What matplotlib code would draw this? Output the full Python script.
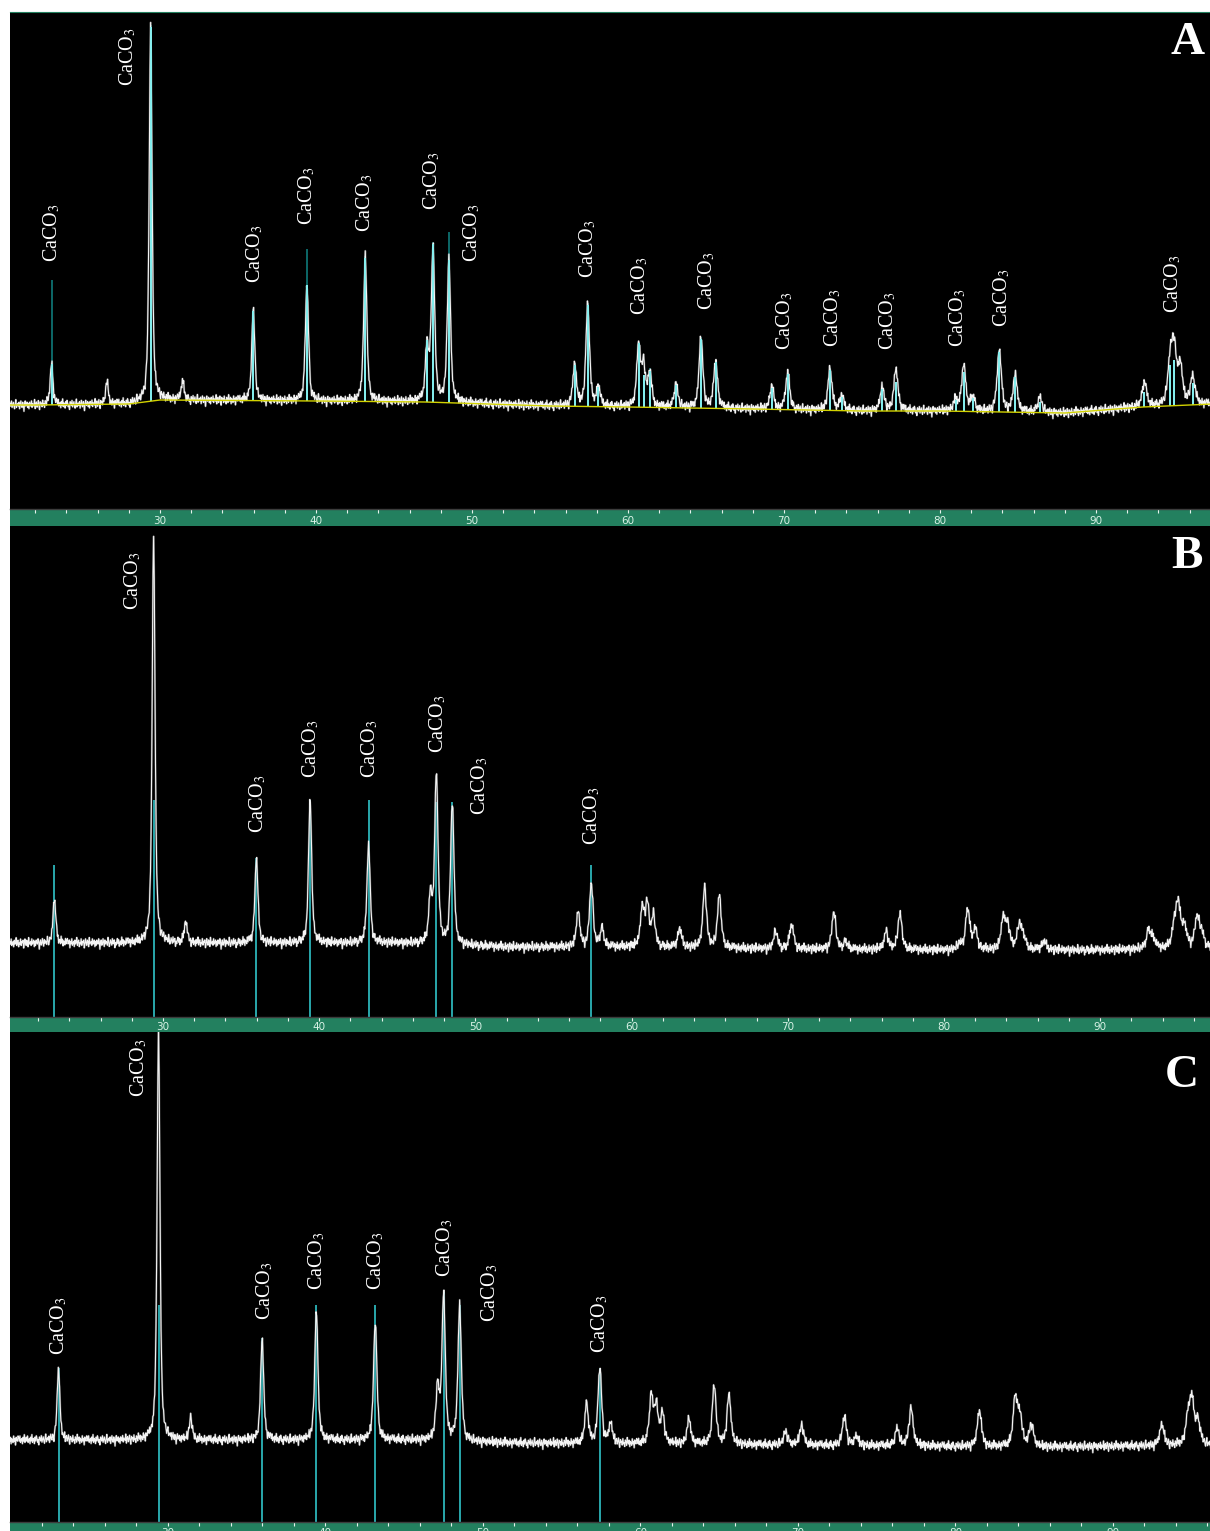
import numpy as np
import matplotlib
matplotlib.use("Agg")
from matplotlib import pyplot as plt

plt.rcParams['mathtext.fontset'] = 'stix'

W, H = 1210, 1531

# ---------------- data (2theta in degrees, intensity in counts) ----------------

# background knots
a_bg_x = [19.5, 22, 28, 30, 40, 47, 55, 60, 68, 75, 80, 88, 93, 97.5]
a_bg_y = [104, 104, 105, 109, 108, 107, 103, 102, 100, 98, 98, 96, 102, 105]
b_bg_x = [19.5, 22, 40, 45, 52, 60, 70, 80, 90, 97.5]
b_bg_y = [74, 74, 74, 74, 70, 70, 68, 67, 67, 69]
c_bg_x = [19.5, 22, 40, 45, 52, 70, 85, 97.5]
c_bg_y = [82, 82, 82, 82, 79, 77, 75, 77]

# peak positions and peak-top counts
a_pos = [23.05, 26.6, 29.40, 31.45, 35.98, 39.42, 43.16, 47.12, 47.50, 48.52,
         56.58, 57.42, 58.10, 60.68, 61.00, 61.40, 63.08, 64.68, 65.62, 69.22,
         70.24, 72.95, 73.70, 76.30, 77.18, 81.00, 81.52, 82.10, 83.80, 84.82,
         86.40, 93.10, 94.75, 95.00, 95.40, 96.20]
a_top = [147, 127, 484, 128, 200, 226, 253, 171, 267, 251,
         146, 206, 124, 168, 151, 140, 126, 172, 149, 123,
         137, 141, 114, 122, 140, 111, 144, 114, 159, 134,
         112, 127, 161, 175, 150, 134]

b_pos = [23.05, 29.40, 31.45, 35.98, 39.42, 43.16, 47.12, 47.50, 48.52,
         56.58, 57.42, 58.10, 60.68, 61.00, 61.40, 63.08, 64.68, 65.62, 69.22,
         70.24, 72.95, 73.70, 76.30, 77.18, 81.00, 81.52, 82.00, 83.80, 84.10,
         84.82, 85.10, 86.40, 93.10, 93.40, 94.75, 95.00, 95.40, 96.20, 96.50]
b_top = [120, 482, 96, 159, 217, 172, 129, 247, 215,
         106, 134, 90, 113, 119, 104, 89, 130, 122, 86,
         93, 105, 76, 86, 103, 75, 109, 89, 103, 95,
         95, 85, 76, 88, 81, 102, 118, 95, 102, 89]

c_pos = [23.05, 29.40, 31.45, 35.98, 39.42, 43.16, 47.12, 47.50, 48.52,
         56.58, 57.42, 58.10, 60.68, 61.00, 61.40, 63.08, 64.68, 65.62, 69.22,
         70.24, 72.95, 73.70, 76.30, 77.18, 81.52, 83.80, 84.10, 84.82,
         93.10, 94.75, 95.00, 95.40]
c_top = [154, 490, 105, 184, 212, 202, 143, 230, 217,
         119, 155, 100, 130, 122, 112, 103, 137, 128, 91,
         97, 106, 86, 94, 114, 111, 129, 112, 99,
         97, 112, 129, 105]

# reference sticks (CaCO3)
a_stick_pos = [23.05, 29.40, 35.98, 39.42, 43.16, 47.12, 47.50, 48.52, 56.58,
               57.42, 58.10, 60.68, 61.00, 61.40, 63.08, 64.68, 65.62, 69.22,
               70.24, 72.95, 73.70, 76.30, 77.18, 81.00, 81.52, 82.10, 83.80,
               84.82, 86.40, 93.10, 94.75, 95.00, 96.20]
a_stick_top = [229, 484, 200, 260, 253, 171, 267, 277, 146,
               206, 122, 167, 134, 141, 126, 172, 147, 121,
               136, 141, 114, 121, 127, 111, 137, 111, 159,
               134, 107, 117, 144, 149, 126]
bc_stick_pos = [23.05, 29.40, 35.98, 39.42, 43.16, 47.50, 48.52, 57.42]
b_stick_top = [152, 217, 159, 217, 217, 215, 215, 152]
c_stick_top = [154, 217, 184, 217, 217, 230, 217, 154]

# label anchors (centre 2theta, bottom counts)
a_lab_x = [23.08, 27.95, 36.09, 39.42, 43.14, 47.44, 50.00, 57.44, 60.77,
           65.06, 70.06, 73.14, 76.67, 81.15, 83.97, 94.94]
a_lab_y = [247, 423, 226, 284, 277, 299, 247, 231, 194,
           199, 159, 162, 159, 162, 182, 196]
b_lab_x = [28.08, 36.08, 39.47, 43.25, 47.61, 50.29, 57.46]
b_lab_y = [407, 184, 239, 239, 264, 202, 172]
c_lab_x = [23.08, 28.16, 36.16, 39.46, 43.21, 47.59, 50.44, 57.43]
c_lab_y = [167, 425, 202, 232, 232, 245, 200, 169]

# detector jitter (counts), repeated along the scan
jitter = [2, -1, 3, -2, 0, 1, -3, 2, -1, 4, -2, 1, 0, -3, 2, -1, 3, 1, -2, 0,
          -4, 2, 1, -1, 3, -2, 0, 2, -1, -3, 1, 4, -2, 0, 1, -1, 2, -3, 0, 3,
          -1, -2, 2, 0, -5, 1, 3, -1, 0, 2, -2, 1, -3, 2, 0, -1, 3, -2, 1, 0,
          -1, 4, -3, 1, 2, -2, 0, 3, -1, -4, 2, 0, 1, -2, 3, -1, 0, -3, 2, 1,
          -2, 4, 0, -1, 2, -3, 1, 0, -2, 3, -1, 1, -4, 2, 0, -1, 3]

tt = np.arange(19.52, 97.6, 0.04)


def pv(x, c):
    w = 0.2 + 0.002 * (c - 20)
    d = (x - c) / (w / 2)
    return 0.6 / (1 + d ** 2) + 0.4 * np.exp(-np.log(2) * d ** 2)


def profile(pos, top, bgx, bgy):
    pos = np.array(pos)
    bg_p = np.interp(pos, bgx, bgy)
    M = np.array([[pv(pi, pj) for pj in pos] for pi in pos])
    h = np.clip(np.linalg.solve(M, np.array(top) - bg_p), 0, None)

    def clean(x):
        x = np.atleast_1d(x)
        out = np.interp(x, bgx, bgy).astype(float)
        for c, hh in zip(pos, h):
            out += hh * pv(x, c)
        return out
    return clean


def px_box(l, t, r, b):
    return [l / W, 1 - b / H, (r - l) / W, (b - t) / H]


def add_panel(plot_px, strip_px, xlim, ymax):
    ax = fig.add_axes(px_box(*plot_px))
    ax.set_facecolor('black')
    ax.set_xlim(*xlim)
    ax.set_ylim(0, ymax)
    ax.set_xticks([])
    ax.set_yticks([])
    for s in ax.spines.values():
        s.set_visible(False)

    ax_s = fig.add_axes(px_box(*strip_px))
    ax_s.set_facecolor('#23805f')
    ax_s.set_xlim(*xlim)
    ax_s.set_ylim(0, 1)
    ax_s.set_yticks([])
    ax_s.set_xticks(np.arange(22, 98, 2))
    ax_s.tick_params(axis='x', direction='in', top=True, bottom=False,
                     length=3, width=0.8, color='#e6f4ee',
                     labelbottom=False, labeltop=False)
    for k, s in ax_s.spines.items():
        s.set_visible(k == 'top')
    ax_s.spines['top'].set_color('#3c3c3c')
    ax_s.spines['top'].set_linewidth(1.0)
    for v in range(30, 100, 10):
        ax_s.text(v, 0.3, str(v), ha='center', va='center', fontsize=7.5,
                  color='#d8f2e6', family='DejaVu Sans')
    return ax


def add_labels(ax, xs, ys):
    for x, y in zip(xs, ys):
        ax.text(x, y, 'CaCO$_3$', rotation=90, ha='center', va='bottom',
                fontsize=14.5, color='white', family='Liberation Serif')


def draw_scan(ax, y):
    ax.plot(tt, y, color='#9a9a9a', lw=1.5, alpha=0.45, zorder=2)
    ax.plot(tt, y, color='#f4f4f4', lw=0.8, zorder=2)


fig = plt.figure(figsize=(W / 100, H / 100), dpi=100)
fig.patch.set_facecolor('white')

noise = 1.3 * np.resize(np.array(jitter, dtype=float), tt.size)

# ---- A ----
axA = add_panel((10, 12, 1210, 509), (10, 509, 1210, 526), (20.385, 97.31), 497)
axA.spines['top'].set_visible(True)
axA.spines['top'].set_color('#23805f')
fA = profile(a_pos, a_top, a_bg_x, a_bg_y)
sp = np.array(a_stick_pos)
base = np.interp(sp, a_bg_x, a_bg_y)
axA.vlines(sp, base, a_stick_top, color='#0d6868', lw=1.4, zorder=1)
draw_scan(axA, fA(tt) + noise)
axA.vlines(sp, base, np.minimum(a_stick_top, fA(sp) - 2), color='#86f0f0',
           lw=1.4, zorder=3)
axA.plot(a_bg_x, a_bg_y, color='#d2d200', lw=1.0, zorder=4)
add_labels(axA, a_lab_x, a_lab_y)

# ---- B ----
axB = add_panel((10, 526, 1210, 1017), (10, 1017, 1210, 1032), (20.205, 97.03), 491)
fB = profile(b_pos, b_top, b_bg_x, b_bg_y)
axB.vlines(bc_stick_pos, 0, b_stick_top, color='#2aa8ac', lw=1.4, zorder=1)
draw_scan(axB, fB(tt) + noise[::-1])
add_labels(axB, b_lab_x, b_lab_y)

# ---- C ----
axC = add_panel((10, 1032, 1210, 1522), (10, 1522, 1210, 1537), (19.97, 96.16), 490)
fC = profile(c_pos, c_top, c_bg_x, c_bg_y)
axC.vlines(bc_stick_pos, 0, c_stick_top, color='#2aa8ac', lw=1.4, zorder=1)
draw_scan(axC, fC(tt) + np.roll(noise, 37))
add_labels(axC, c_lab_x, c_lab_y)

for letter, (cx, cy) in zip('ABC', [(1188, 43), (1187, 557), (1182, 1076)]):
    fig.text(cx / W, 1 - cy / H, letter, ha='center', va='center',
             fontsize=34, fontweight='bold', color='white',
             family='Liberation Serif')

fig.savefig('out.png', dpi=100, facecolor=fig.get_facecolor())
